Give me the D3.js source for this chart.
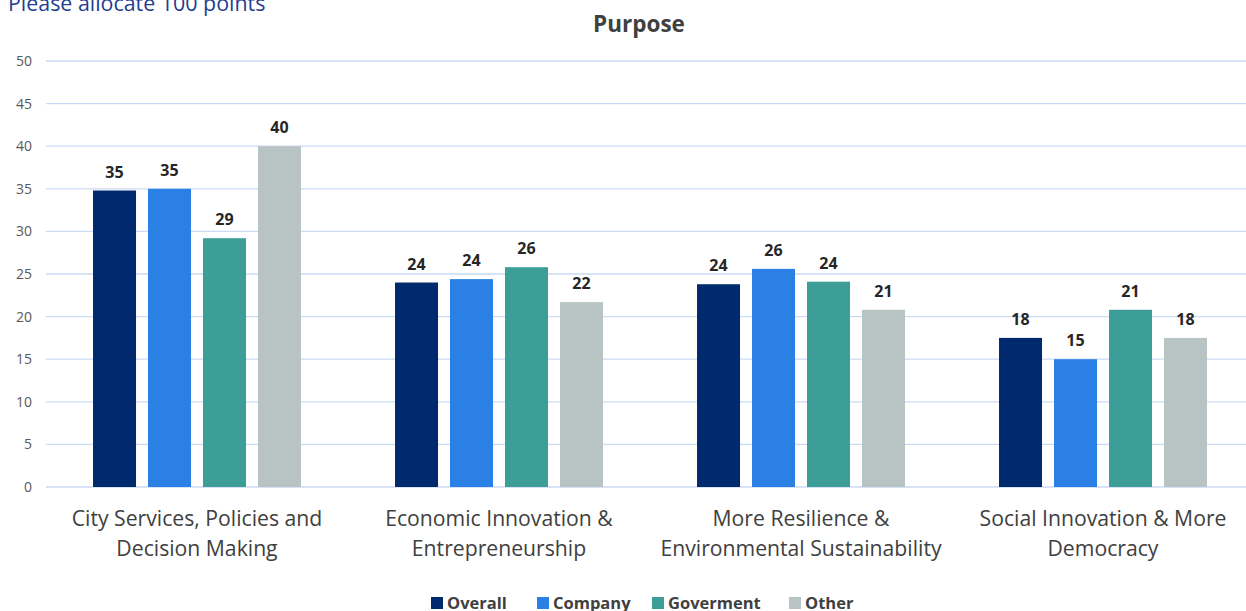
<!DOCTYPE html>
<html>
<head>
<meta charset="utf-8">
<script src="https://cdn.jsdelivr.net/npm/d3@7"></script>
<style>
  body { margin: 0; background: #fff; }
  svg { display: block; font-family: "Open Sans", "Noto Sans", sans-serif; }
</style>
</head>
<body>
<svg id="chart" width="1246" height="611"></svg>
<script>
// Average points allocated per purpose, by respondent type
const categories = [
  ["City Services, Policies and", "Decision Making"],
  ["Economic Innovation &", "Entrepreneurship"],
  ["More Resilience &", "Environmental Sustainability"],
  ["Social Innovation & More", "Democracy"]
];
const seriesNames = ["Overall", "Company", "Goverment", "Other"];
const overall   = [34.8, 24.0, 23.8, 17.5];
const company   = [35.0, 24.4, 25.6, 15.0];
const goverment = [29.2, 25.8, 24.1, 20.8];
const other     = [40.0, 21.7, 20.8, 17.5];
const yTicks = [0, 5, 10, 15, 20, 25, 30, 35, 40, 45, 50];
const colors = ["#00296E", "#2A80E4", "#3D9E98", "#B8C3C3"];

const seriesValues = [overall, company, goverment, other];
const svg = d3.select("#chart");

const plot = { left: 46, right: 1254, top: 61, bottom: 487 };

const x0 = d3.scaleBand()
  .domain(d3.range(categories.length))
  .range([plot.left, plot.right])
  .paddingInner(0).paddingOuter(0);

const x1 = d3.scaleBand()
  .domain(d3.range(seriesNames.length))
  .range([0, x0.bandwidth()])
  .paddingInner(0.218)
  .paddingOuter(0.855);

const y = d3.scaleLinear().domain([0, 50]).range([plot.bottom, plot.top]);

// Gridlines
svg.append("g")
  .selectAll("line")
  .data(yTicks)
  .join("line")
  .attr("x1", plot.left).attr("x2", plot.right)
  .attr("y1", d => y(d)).attr("y2", d => y(d))
  .attr("stroke", "#CCDAF5").attr("stroke-width", 1.3);

// Y axis tick labels
svg.append("g")
  .selectAll("text")
  .data(yTicks)
  .join("text")
  .attr("x", 32).attr("y", d => y(d))
  .attr("dy", "0.35em")
  .attr("text-anchor", "end")
  .attr("font-size", 14)
  .attr("fill", "#595959")
  .text(d => d);

// Bars and value labels
const groups = svg.append("g")
  .selectAll("g")
  .data(categories.map((c, i) => i))
  .join("g")
  .attr("transform", i => `translate(${x0(i)},0)`);

groups.selectAll("rect")
  .data(i => seriesValues.map((s, k) => ({ k, v: s[i] })))
  .join("rect")
  .attr("x", d => x1(d.k))
  .attr("width", x1.bandwidth())
  .attr("y", d => y(d.v))
  .attr("height", d => y(0) - y(d.v))
  .attr("fill", d => colors[d.k]);

groups.selectAll("text.val")
  .data(i => seriesValues.map((s, k) => ({ k, v: s[i] })))
  .join("text")
  .attr("class", "val")
  .attr("x", d => x1(d.k) + x1.bandwidth() / 2)
  .attr("y", d => y(d.v) - 13)
  .attr("text-anchor", "middle")
  .attr("font-size", 16)
  .attr("font-weight", "bold")
  .attr("fill", "#262626")
  .text(d => d3.format(".0f")(d.v));

// Category labels
const catLabels = svg.append("g")
  .selectAll("text")
  .data(categories)
  .join("text")
  .attr("x", (d, i) => x0(i) + x0.bandwidth() / 2)
  .attr("y", 526)
  .attr("text-anchor", "middle")
  .attr("font-size", 21.2)
  .attr("fill", "#404040");
catLabels.selectAll("tspan")
  .data(d => d)
  .join("tspan")
  .attr("x", function () { return d3.select(this.parentNode).attr("x"); })
  .attr("dy", (d, j) => j === 0 ? 0 : 30)
  .text(d => d);

// Title
svg.append("text")
  .attr("x", 639).attr("y", 32)
  .attr("text-anchor", "middle")
  .attr("font-size", 22.5)
  .attr("font-weight", "bold")
  .attr("fill", "#404040")
  .text("Purpose");

// Note in the top-left corner
svg.append("text")
  .attr("x", 8).attr("y", 11)
  .attr("font-size", 21.4)
  .attr("fill", "#1F3D91")
  .text("Please allocate 100 points");

// Legend
const legendX = [431, 537, 652, 789];
const legend = svg.append("g")
  .selectAll("g")
  .data(seriesNames)
  .join("g")
  .attr("transform", (d, i) => `translate(${legendX[i]},603)`);
legend.append("rect")
  .attr("x", 0).attr("y", -6)
  .attr("width", 12).attr("height", 12)
  .attr("fill", (d, i) => colors[i]);
legend.append("text")
  .attr("x", 16).attr("y", 5.5)
  .attr("font-size", 16.5)
  .attr("font-weight", "bold")
  .attr("fill", "#404040")
  .text(d => d);
</script>
</body>
</html>
